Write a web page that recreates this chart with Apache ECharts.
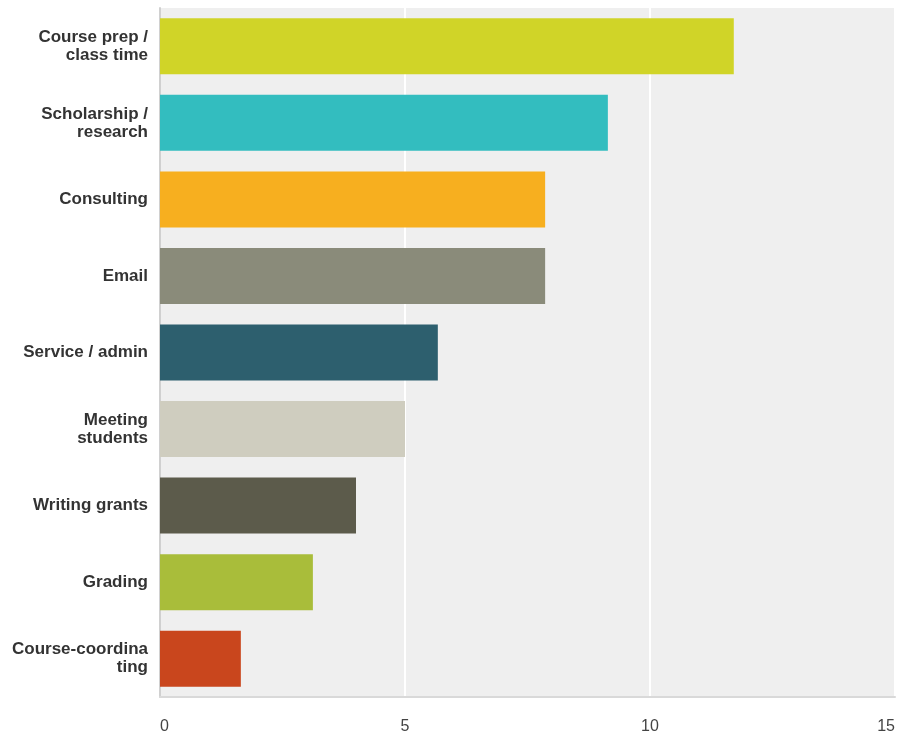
<!DOCTYPE html>
<html>
<head>
<meta charset="utf-8">
<script src="https://cdn.jsdelivr.net/npm/echarts@6/dist/echarts.min.js"></script>
<style>
  html, body { margin: 0; padding: 0; background: #ffffff; }
  #chart { width: 898px; height: 735px; }
</style>
</head>
<body>
<div id="chart"></div>
<script>
// Activities, top to bottom
const categories = [
  'Course prep /\nclass time',
  'Scholarship /\nresearch',
  'Consulting',
  'Email',
  'Service / admin',
  'Meeting\nstudents',
  'Writing grants',
  'Grading',
  'Course-coordina\nting'
];
// Average ranking score for each activity
const values = [11.71, 9.14, 7.86, 7.86, 5.67, 5.0, 4.0, 3.12, 1.65];
// One fill per bar
const barColors = ['#d0d428', '#33bdbf', '#f7af1f', '#8a8b7a', '#2d5f6e', '#cfcdbf', '#5c5b4b', '#a9bd3a', '#c9461d'];
// Value axis ticks
const tickMin = 0, tickMax = 15, tickStep = 5;

const chart = echarts.init(document.getElementById('chart'), null, { renderer: 'canvas' });
chart.setOption({
  animation: false,
  grid: {
    left: 160, top: 8, right: 2, bottom: 38,
    show: true, backgroundColor: '#efefef', borderWidth: 0
  },
  xAxis: {
    type: 'value',
    min: tickMin, max: tickMax, interval: tickStep,
    axisLine: { show: true, lineStyle: { color: '#d9d9d9', width: 2 } },
    axisTick: { show: false },
    splitLine: { show: true, lineStyle: { color: '#ffffff', width: 2 } },
    axisLabel: {
      color: '#444444', fontSize: 16, fontFamily: 'Liberation Sans, Arial, sans-serif',
      margin: 22, alignMinLabel: 'left', alignMaxLabel: 'right',
      showMinLabel: true, showMaxLabel: true
    }
  },
  yAxis: {
    type: 'category',
    data: categories,
    inverse: true,
    axisLine: { show: true, lineStyle: { color: '#d0d0d0', width: 2 } },
    axisTick: { show: false },
    axisLabel: {
      color: '#333333', fontSize: 17, fontWeight: 'bold',
      fontFamily: 'Liberation Sans, Arial, sans-serif',
      lineHeight: 18, margin: 12, align: 'right'
    }
  },
  series: [{
    type: 'bar',
    data: values.map((v, i) => ({ value: v, itemStyle: { color: barColors[i] } })),
    barWidth: 56,
    silent: true
  }]
});
</script>
</body>
</html>
